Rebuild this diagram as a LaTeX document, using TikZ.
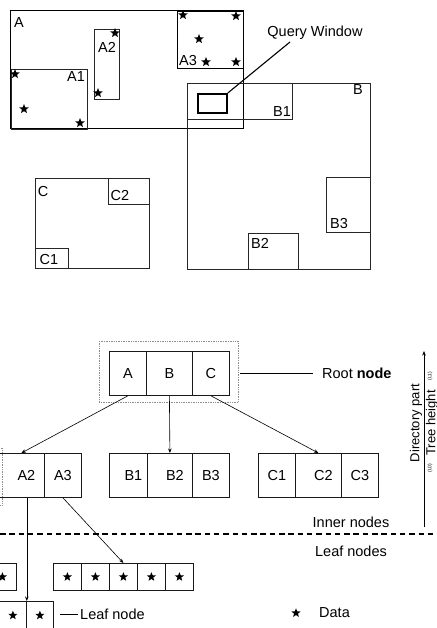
\documentclass[tikz,border=0pt]{standalone}
\usepackage{fontspec}
\setmainfont{Liberation Sans}
\usetikzlibrary{shapes.geometric,arrows.meta}
\newcommand{\sh}{\hspace*{10pt}}
\begin{document}
\begin{tikzpicture}[x=1pt,y=-1pt,
  every node/.style={font=\fontsize{14.5}{16}\selectfont, inner sep=0pt},
  box/.style={draw=black!85, line width=0.8pt},
  cell/.style={draw=black!90, line width=0.8pt, minimum height=44pt, anchor=north west},
  leafcell/.style={draw=black!90, line width=0.8pt, minimum height=27pt, minimum width=28pt, anchor=north west},
  starnode/.style={star, star points=5, star point ratio=2.3, fill=black, minimum size=10pt, inner sep=0pt},
  arr/.style={-{Stealth[length=4.5pt,width=3.5pt]}, line width=0.6pt},
  thinline/.style={line width=0.7pt},
  dots/.style={draw=black!45, densely dotted, line width=0.7pt},
  tiny/.style={font=\fontsize{5}{6}\selectfont}]
\useasboundingbox (0,0) rectangle (436,628);
\clip (0,0) rectangle (436,628);

% ---------- spatial view ----------
\draw[line width=1pt] (10,11) rectangle (243,129);     % A
\draw[box] (11,69) rectangle (87,129);                 % A1
\draw[box] (94,29) rectangle (119,99);                 % A2
\draw[line width=0.9pt] (177,11) rectangle (243,68);   % A3
\draw[box] (187,83) rectangle (370,269);               % B
\draw[box] (187,83) rectangle (292,119);               % B1
\draw[box] (326,177) rectangle (370,232);              % B3
\draw[box] (248,233) rectangle (298,269);              % B2
\draw[box] (35,178) rectangle (149,268);               % C
\draw[box] (108,178) rectangle (149,204);              % C2
\draw[box] (35,248) rectangle (68,268);                % C1

\node (tA) at (19,23) {A};
\node (tA1) at (76,77) {A1};
\node (tA2) at (107,47) {A2};
\node (tA3) at (188,61) {A3};
\node (tB) at (358,90) {B};
\node (tB1) at (282,112) {B1};
\node (tB3) at (339,224) {B3};
\node (tB2) at (260,243) {B2};
\node (tC) at (43,192) {C};
\node (tC2) at (120,196) {C2};
\node (tC1) at (49,260) {C1};

\foreach \p [count=\i] in {(15,74),(24,109),(80,123),(115,33),(98,93),(183,15),(236,16),(199,39),(206,62),(236,62)}
  \node[starnode] (sp\i) at \p {};

% query window
\node[draw, line width=1.8pt, minimum width=29pt, minimum height=19pt, anchor=north west] (qw) at (197,93) {};
\node (qwl) at (315,33) {Query Window};
\coordinate (qwend) at (290,42);
\draw[line width=1.1pt] (qw.north east) -- (qwend);

% ---------- tree ----------
% root
\node[cell, minimum width=37pt] (rA) at (109,351) {A};
\node[cell, minimum width=46pt] (rB) at (146,351) {B};
\node[cell, minimum width=37pt] (rC) at (192,351) {C};
\draw[dots] (99,341) rectangle (238,402);
\coordinate (rl) at (240,373);
\node[anchor=west] (rootlbl) at (322,373) {Root \textbf{node}};
\draw[thinline] (rl) -- ([xshift=-9pt]rootlbl.west);

% inner nodes
\node[cell, minimum width=37pt] (iA1) at (-39,453) {};
\node[cell, minimum width=46pt] (iA2) at (-2,453) {\sh A2};
\node[cell, minimum width=37pt] (iA3) at (44,453) {A3};
\draw[dots] (-50,448) rectangle (2,505);

\node[cell, minimum width=38pt] (iB1) at (109,453) {\sh B1};
\node[cell, minimum width=45pt] (iB2) at (147,453) {\sh B2};
\node[cell, minimum width=37pt] (iB3) at (192,453) {B3};

\node[cell, minimum width=37pt] (iC1) at (258,453) {C1};
\node[cell, minimum width=46pt] (iC2) at (295,453) {\sh C2};
\node[cell, minimum width=37pt] (iC3) at (341,453) {C3};

\draw[arr] (rA.south) -- (iA2.north);
\draw[arr] (rB.south) -- (iB2.north);
\draw[arr] (rC.south) -- (iC2.north);

% leaf nodes
\foreach \k in {1,...,5} {
  \node[leafcell] (l\k) at ({53+28*(\k-1)},563) {};
  \node[starnode, minimum size=9.5pt] (ls\k) at (l\k.center) {};
}
\node[leafcell] (lx) at (-12,563) {};
\node[starnode, minimum size=9.5pt] (lxs) at (lx.center) {};
\node[leafcell, minimum width=27pt, minimum height=28pt] (lb1) at (-1,601) {};
\node[leafcell, minimum width=27pt, minimum height=28pt] (lb2) at (26,601) {};
\node[starnode, minimum size=9.5pt] (lbs1) at (lb1.center) {};
\node[starnode, minimum size=9.5pt] (lbs2) at (lb2.center) {};

\draw[arr] (lb1.north east |- iA2.south) -- (lb1.north east);
\draw[arr] (iA3.south) -- (l3.north);

\node[anchor=west] (leaflbl) at (80,614) {Leaf node};
\draw[thinline] ([xshift=-20pt]leaflbl.west) -- ([xshift=-2pt]leaflbl.west);

% separator
\coordinate (dl) at (0,534);
\coordinate (dr) at (436,534);
\draw[line width=1.3pt, dash pattern=on 5.5pt off 3.8pt] (dl) -- (dr);

\node (inner) at (351,522) {Inner nodes};
\node (leafs) at (351,551) {Leaf nodes};
\node[starnode, minimum size=9.5pt] (legstar) at (296,613) {};
\node[anchor=west] (data) at (319,613) {Data};

% directory axis
\coordinate (db) at (424,527);
\coordinate (dt) at (424,351);
\draw[arr] (db) -- (dt);
\node[rotate=90, font=\fontsize{13}{15}\selectfont] (dirp) at (416,423) {Directory part};
\node[rotate=90, font=\fontsize{13}{15}\selectfont] (treeh) at (432,423) {Tree height};
\node[rotate=90, tiny] (l1) at (430,376) {(L1)};
\node[rotate=90, tiny] (l0) at (430,468) {(L0)};
\end{tikzpicture}
\end{document}
